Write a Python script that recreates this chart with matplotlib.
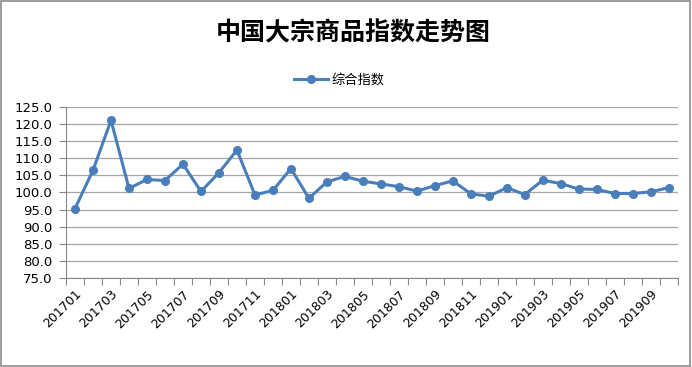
import matplotlib
matplotlib.use("Agg")
import matplotlib.pyplot as plt
from matplotlib.patches import Rectangle

plt.rcParams["font.family"] = ["Noto Sans CJK SC", "DejaVu Sans"]

# monthly index, 201701 .. 201910
months = [f"{y}{m:02d}" for y in (2017, 2018, 2019) for m in range(1, 13)][:34]
index_values = [95.3, 106.5, 121.1, 101.2, 103.8, 103.5, 108.3, 100.3, 105.8, 112.4,
                99.3, 100.6, 107.0, 98.3, 103.1, 104.7, 103.3, 102.5, 101.7, 100.4,
                102.0, 103.4, 99.6, 98.9, 101.4, 99.4, 103.6, 102.6, 101.0, 100.9,
                99.7, 99.7, 100.2, 101.4]
y_ticks = [75 + 5 * i for i in range(11)]

BLUE = "#4A7EBB"
GRID = "#A6A6A6"

fig = plt.figure(figsize=(6.92, 3.67), dpi=100)
ax = fig.add_axes([0.0954, 0.2425, 0.884, 0.466])

x = list(range(len(months)))
ax.plot(x, index_values, color=BLUE, lw=2.2, marker="o", markersize=5.5,
        markeredgecolor=BLUE, label="综合指数", zorder=3)

ax.set_xlim(-0.5, len(months) - 0.5)
ax.set_ylim(75, 125)
ax.set_yticks(y_ticks)
ax.set_yticklabels([f"{v:.1f}" for v in y_ticks], family="DejaVu Sans", fontsize=9.5)
ax.yaxis.grid(True, color=GRID, lw=0.9)
ax.set_axisbelow(True)

# ticks on category boundaries, labels on every other category
ax.set_xticks([i - 0.5 for i in range(len(months) + 1)], minor=False)
ax.set_xticklabels([""] * (len(months) + 1))
ax.set_xticks(x[::2], minor=True)
ax.set_xticklabels(months[::2], minor=True, rotation=45, ha="right",
                   rotation_mode="anchor", family="DejaVu Sans", fontsize=9)
ax.tick_params(axis="x", which="major", length=5, color="#888888", direction="out")
ax.tick_params(axis="x", which="minor", length=0, pad=7)
ax.tick_params(axis="y", length=5, color="#888888", pad=5)

for s in ["top", "right"]:
    ax.spines[s].set_visible(False)
for s in ["left", "bottom"]:
    ax.spines[s].set_color("#888888")

fig.text(0.51, 0.91, "中国大宗商品指数走势图", ha="center", va="center",
         fontsize=18, fontweight="bold", color="black")
fig.legend(loc="center", bbox_to_anchor=(0.49, 0.782), frameon=False,
           fontsize=9.5, handlelength=2.6, handletextpad=0.2)

fig.patches.append(Rectangle((0.002, 0.002), 0.995, 0.994, transform=fig.transFigure,
                             fill=False, edgecolor="#8C8C8C", lw=1.2))

fig.savefig("out.png", dpi=100)
